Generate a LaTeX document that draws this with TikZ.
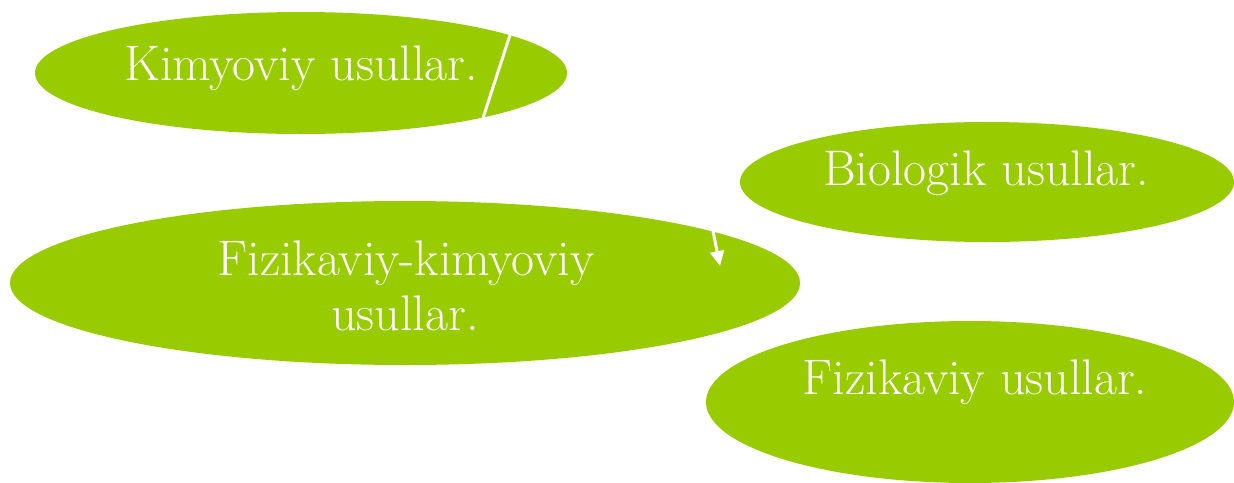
\documentclass[tikz,border=0pt]{standalone}
\usetikzlibrary{shapes.geometric,arrows.meta}
\definecolor{leaf}{HTML}{99CC00}
\begin{document}
\begin{tikzpicture}[x=1pt,y=-1pt,
  blob/.style={ellipse,fill=leaf,draw=none,inner sep=0pt,outer sep=0pt},
  lbl/.style={anchor=base,text=white,inner sep=0pt,font=\fontsize{50}{58}\selectfont},
  wline/.style={draw=white,line width=3pt}]
\useasboundingbox (0,0) rectangle (1234,482);
\clip (0,0) rectangle (1234,482);
\node[blob,minimum width=532pt,minimum height=122pt] (k) at (301,73) {};
\node[blob,minimum width=494pt,minimum height=120pt] (b) at (987,182) {};
\node[blob,minimum width=790pt,minimum height=164pt] (fk) at (405,283) {};
\node[blob,minimum width=528pt,minimum height=162pt] (f) at (970,402) {};
\node[lbl] (kt) at (301,80) {Kimyoviy usullar.};
\node[lbl] (bt) at (986,185) {Biologik usullar.};
\node[lbl] (fkt1) at (406,275) {Fizikaviy-kimyoviy};
\node[lbl] (fkt2) at (405,330) {usullar.};
\node[lbl] (ft) at (975,394) {Fizikaviy usullar.};
\coordinate (k1) at (510,35);
\coordinate (k2) at (483,118);
\draw[wline] (k1) -- (k2);
\coordinate (a1) at (713,231);
\coordinate (a2) at (720,266);
\draw[wline,-{Triangle[width=14pt,length=15pt]}] (a1) -- (a2);
\end{tikzpicture}
\end{document}
